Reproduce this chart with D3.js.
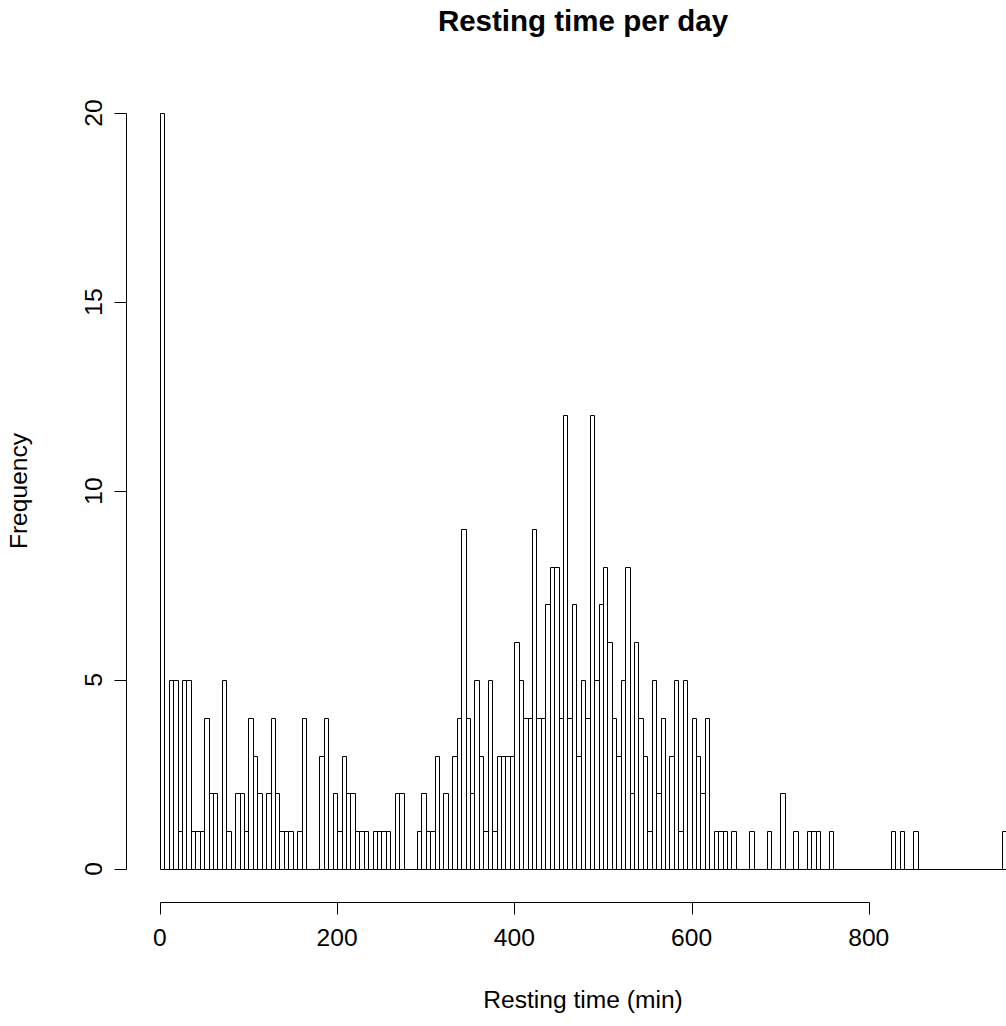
<!DOCTYPE html>
<html>
<head>
<meta charset="utf-8">
<script src="https://cdn.jsdelivr.net/npm/d3@7"></script>
<style>
  html, body { margin: 0; padding: 0; background: #fff; }
  svg { display: block; }
  text { font-family: "Liberation Sans", Arial, Helvetica, sans-serif; fill: #000; }
</style>
</head>
<body>
<svg id="chart" width="1006" height="1026"></svg>
<script>
// ---- data ----
const binWidth = 5;            // minutes per bin
const binStart = 0;            // first break
const counts = [
  20,0,5,5,1,5,5,1,1,1, 4,2,2,0,5,1,0,2,2,1,
  4,3,2,0,2,4,2,1,1,1, 0,1,4,0,0,0,3,4,0,2,
  1,3,2,2,1,1,1,0,1,1, 1,1,0,2,2,0,0,0,1,2,
  1,1,3,0,2,0,3,4,9,4, 2,5,3,1,5,1,3,3,3,3,
  6,5,4,4,9,4,4,7,8,8, 4,12,4,7,3,5,4,12,5,7,
  8,6,4,3,5,8,2,6,4,3, 1,5,2,4,0,3,5,1,5,0,
  4,3,2,4,0,1,1,1,0,1, 0,0,0,1,0,0,0,1,0,0,
  2,0,0,1,0,0,1,1,1,0, 0,1,0,0,0,0,0,0,0,0,
  0,0,0,0,0,1,0,1,0,0, 1,0,0,0,0,0,0,0,0,0,
  0,0,0,0,0,0,0,0,0,0, 1
];
const xTicks = [0, 200, 400, 600, 800];
const yTicks = [0, 5, 10, 15, 20];
const titleText = "Resting time per day";
const xLabel = "Resting time (min)";
const yLabel = "Frequency";

// ---- bins ----
const bins = counts.map((c, i) => ({ x0: binStart + i * binWidth, x1: binStart + (i + 1) * binWidth, n: c }));
const xMin = bins[0].x0, xMax = bins[bins.length - 1].x1;
const pad = (xMax - xMin) * 0.04;

const svg = d3.select("#chart");
const x = d3.scaleLinear().domain([xMin - pad, xMax + pad]).range([126, 1040]);
const y = d3.scaleLinear().domain([0, 20]).range([869, 113]);

const fs = 24.6;

// bars (R-style open rectangles; zero bins draw as baseline)
svg.append("g")
  .selectAll("path")
  .data(bins)
  .join("path")
  .attr("d", d => {
    const a = Math.round(x(d.x0)) + 0.5, b = Math.round(x(d.x1)) + 0.5;
    const y0 = Math.round(y(0)) + 0.5, y1 = Math.round(y(d.n)) + 0.5;
    return `M${a},${y0}V${y1}H${b}V${y0}Z`;
  })
  .attr("fill", "none")
  .attr("stroke", "#000")
  .attr("stroke-width", 1);

// x axis
const xAxis = svg.append("g").attr("transform", "translate(0,902.5)");
xAxis.append("path")
  .attr("d", `M${Math.round(x(xTicks[0]))+0.5},0H${Math.round(x(xTicks[xTicks.length-1]))+0.5}`)
  .attr("stroke", "#000").attr("fill", "none");
xAxis.selectAll("line").data(xTicks).join("line")
  .attr("x1", d => Math.round(x(d)) + 0.5).attr("x2", d => Math.round(x(d)) + 0.5)
  .attr("y1", 0).attr("y2", 12).attr("stroke", "#000");
xAxis.selectAll("text").data(xTicks).join("text")
  .attr("x", d => x(d)).attr("y", 43.5)
  .attr("text-anchor", "middle")
  .style("font-size", fs + "px")
  .text(d => d);

// y axis
const yAxis = svg.append("g").attr("transform", "translate(126.5,0)");
yAxis.append("path")
  .attr("d", `M0,${Math.round(y(yTicks[0]))+0.5}V${Math.round(y(yTicks[yTicks.length-1]))+0.5}`)
  .attr("stroke", "#000").attr("fill", "none");
yAxis.selectAll("line").data(yTicks).join("line")
  .attr("y1", d => Math.round(y(d)) + 0.5).attr("y2", d => Math.round(y(d)) + 0.5)
  .attr("x1", 0).attr("x2", -12).attr("stroke", "#000");
yAxis.selectAll("text").data(yTicks).join("text")
  .attr("transform", d => `translate(-25,${y(d)}) rotate(-90)`)
  .attr("text-anchor", "middle")
  .style("font-size", fs + "px")
  .text(d => d);

// titles
svg.append("text")
  .attr("x", 583).attr("y", 31)
  .attr("text-anchor", "middle")
  .style("font-size", (fs * 1.2).toFixed(1) + "px").style("font-weight", "bold")
  .text(titleText);
svg.append("text")
  .attr("x", 583).attr("y", 1008)
  .attr("text-anchor", "middle")
  .style("font-size", fs + "px")
  .text(xLabel);
svg.append("text")
  .attr("transform", `translate(26.5,491) rotate(-90)`)
  .attr("text-anchor", "middle")
  .style("font-size", fs + "px")
  .text(yLabel);
</script>
</body>
</html>
